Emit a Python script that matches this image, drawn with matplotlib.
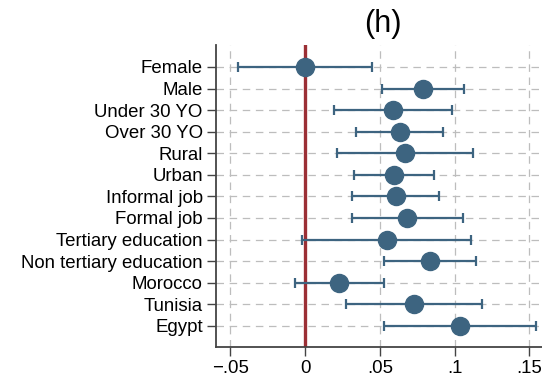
import matplotlib
matplotlib.use("Agg")
import matplotlib.pyplot as plt

plt.rcParams['font.family'] = ['Liberation Sans', 'DejaVu Sans']

categories = ["Female", "Male", "Under 30 YO", "Over 30 YO", "Rural", "Urban",
              "Informal job", "Formal job", "Tertiary education",
              "Non tertiary education", "Morocco", "Tunisia", "Egypt"]
estimates = [0.000, 0.0788, 0.0586, 0.0633, 0.0666, 0.0597, 0.0606, 0.0684,
             0.0546, 0.0833, 0.0227, 0.0728, 0.1035]
ci_low = [-0.0452, 0.0514, 0.0194, 0.0341, 0.0210, 0.0327, 0.0314, 0.0314,
          -0.0020, 0.0528, -0.0069, 0.0272, 0.0526]
ci_high = [0.0444, 0.1062, 0.0980, 0.0924, 0.1122, 0.0864, 0.0893, 0.1055,
           0.1109, 0.1140, 0.0530, 0.1185, 0.1541]
xticks = [-0.05, 0, 0.05, 0.1, 0.15]
xticklabels = ["\u2212.05", "0", ".05", ".1", ".15"]

fig = plt.figure(figsize=(5.42, 3.78), dpi=100)
ax = fig.add_axes([216/542, 1-346.5/378, 1-216/542, (346.5-45)/378])

ypos = list(range(len(categories)))
xerr = [[e - l for e, l in zip(estimates, ci_low)],
        [h - e for e, h in zip(estimates, ci_high)]]

color = "#3d6480"
ax.axvline(0, color="#9b2f35", lw=2.4, zorder=2)
ax.errorbar(estimates, ypos, xerr=xerr, fmt='o', color=color, ecolor=color,
            elinewidth=1.6, capsize=3.6, capthick=1.6, markersize=13,
            zorder=3)

ax.set_xlim(-0.0597, 0.1584)
ax.set_ylim(len(categories) - 1 + 0.96, -1.02)
ax.set_xticks(xticks)
ax.set_xticklabels(xticklabels)
ax.set_yticks(ypos)
ax.set_yticklabels(categories)

for x in xticks:
    ax.axvline(x, color="#bdbdbd", lw=0.9, ls=(0, (6, 4.5)), zorder=1)
for y in ypos:
    ax.axhline(y, color="#bdbdbd", lw=0.9, ls=(0, (6, 4.5)), zorder=1)

ax.tick_params(axis='both', labelsize=13.4, length=6.5, width=1.0,
               color="#444444", pad=3)
for s in ["top", "right"]:
    ax.spines[s].set_visible(False)
for s in ["left", "bottom"]:
    ax.spines[s].set_color("#444444")
    ax.spines[s].set_linewidth(1.3)

fig.text(383/542, 1-24/378, "(h)", fontsize=22, ha="center", va="center")

fig.savefig("out.png", dpi=100)
